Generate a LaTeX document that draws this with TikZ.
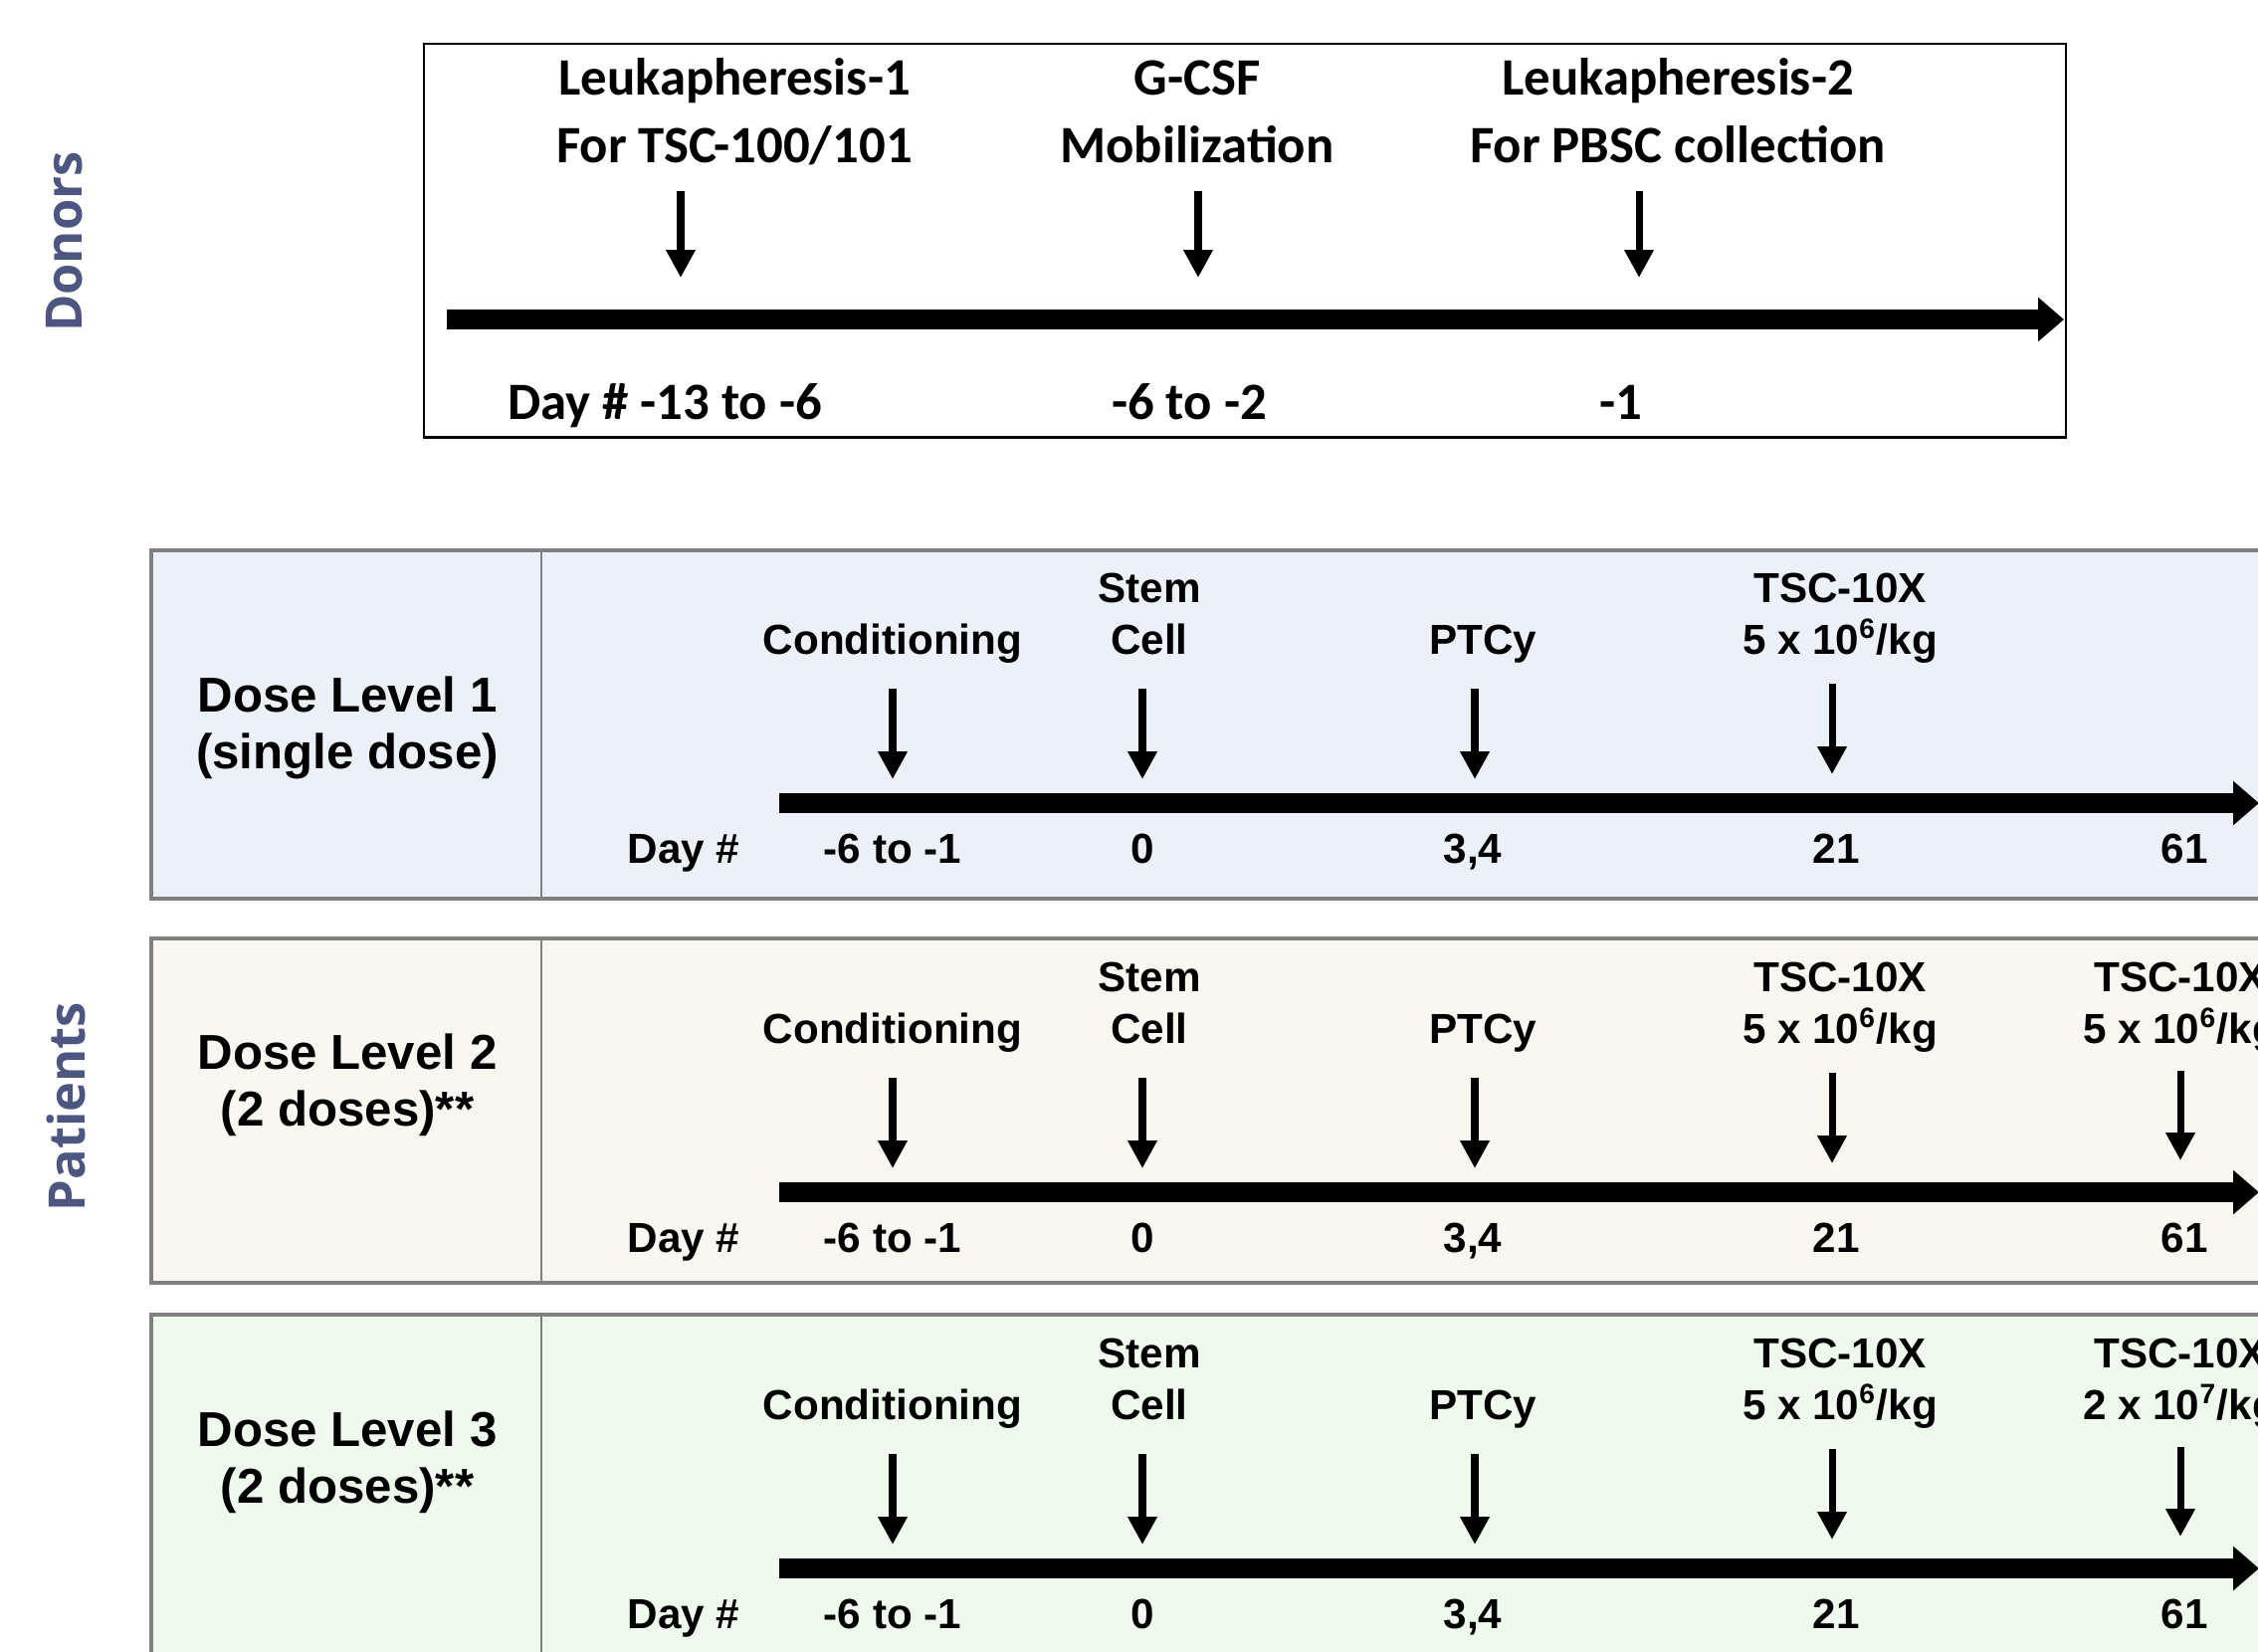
\documentclass[tikz,border=0pt]{standalone}
\usepackage{fontspec}
\setmainfont{Liberation Sans}
\newfontfamily\donorfont{Carlito}
\newfontfamily\sidefont{Open Sans}
\usetikzlibrary{positioning, arrows.meta}

\definecolor{sidecolor}{RGB}{77,86,128}
\definecolor{rowblue}{RGB}{234,241,248}
\definecolor{rowbeige}{RGB}{250,246,240}
\definecolor{rowgreen}{RGB}{238,251,236}
\definecolor{rowedge}{RGB}{128,128,128}

\begin{document}
\begin{tikzpicture}[x=0.01cm, y=-0.01cm,
		sidelabel/.style={font=\sidefont\bfseries\fontsize{14.4}{17}\selectfont, text=sidecolor, rotate=90, inner sep=0pt},
		donorlabel/.style={font=\donorfont\bfseries\fontsize{15}{19.3}\selectfont, align=center, inner sep=0pt, anchor=base},
		doselabel/.style={font=\bfseries\fontsize{14}{16.2}\selectfont, align=center, inner sep=0pt, anchor=base},
		eventlabel/.style={font=\bfseries\fontsize{12}{14.7}\selectfont, align=center, inner sep=0pt, anchor=base},
		rowbox/.style={draw=rowedge, line width=1.1pt},
		timeline/.style={line width=0.2cm, -{Triangle[width=0.43cm, length=0.26cm]}},
		event/.style={line width=2pt, -{Triangle[width=0.28cm, length=0.28cm]}}
	]
	\useasboundingbox (0,0) rectangle (2269,1659);

	% donors
	\node[sidelabel] (donors) at (65,243) {Donors};
	\node[draw, line width=0.7pt, minimum width=16.49cm, minimum height=3.95cm, anchor=north west] (donorbox) at (425,43) {};
	\node[donorlabel] (leuk1) at (738,163) {Leukapheresis-1\\For TSC-100/101};
	\node[donorlabel] (gcsf) at (1203,163) {G-CSF\\Mobilization};
	\node[donorlabel] (leuk2) at (1686,163) {Leukapheresis-2\\For PBSC collection};
	\node[donorlabel] (dday1) at (668,421) {Day \# -13 to -6};
	\node[donorlabel] (dday2) at (1195,421) {-6 to -2};
	\node[donorlabel] (dday3) at (1629,421) {-1};
	\coordinate (dstart) at (449,321);
	\coordinate (dend) at (2074,321);
	\draw[timeline] (dstart) -- (dend);

	\foreach \i/\x in {1/684, 2/1204, 3/1647} {
		\coordinate (dtop\i) at (\x,192);
		\coordinate (dtip\i) at (\x,279);
		\draw[event] (dtop\i) -- (dtip\i);
	}

	% patients
	\node[sidelabel] (patients) at (67,1112) {Patients};
	\draw[rowbox, fill=rowblue] (152,553) rectangle (2330,903);
	\draw[rowbox, fill=rowbeige] (152,943) rectangle (2330,1289);
	\draw[rowbox, fill=rowgreen] (152,1321) rectangle (2330,1700);
	\foreach \y/\h in {553/903, 943/1289, 1321/1700}
		\draw[draw=rowedge, line width=0.8pt] (544,\y) -- (544,\h);

	\node[doselabel] (dose1) at (349,772) {Dose Level 1\\(single dose)};
	\node[doselabel] (dose2) at (349,1131) {Dose Level 2\\(2 doses)**};
	\node[doselabel] (dose3) at (349,1510) {Dose Level 3\\(2 doses)**};

	\foreach \r/\dy in {1/0, 2/391, 3/769} {
		\node[eventlabel] (cond\r) at (897,657+\dy) {Conditioning};
		\node[eventlabel] (stem\r) at (1155,657+\dy) {Stem\\Cell};
		\node[eventlabel] (ptcy\r) at (1490,657+\dy) {PTCy};
		\node[eventlabel] (tsca\r) at (1849,657+\dy) {TSC-10X\\5 x 10\textsuperscript{6}/kg};
		\node[eventlabel] (day\r) at (687,867+\dy) {Day \#};
		\node[eventlabel] (daya\r) at (897,867+\dy) {-6 to -1};
		\node[eventlabel] (dayb\r) at (1148,867+\dy) {0};
		\node[eventlabel] (dayc\r) at (1480,867+\dy) {3,4};
		\node[eventlabel] (dayd\r) at (1845,867+\dy) {21};
		\node[eventlabel] (daye\r) at (2195,867+\dy) {61};
		\coordinate (start\r) at (783,807+\dy);
		\coordinate (end\r) at (2270,807+\dy);
		\draw[timeline] (start\r) -- (end\r);
		\foreach \i/\x/\t in {1/897/692, 2/1148/692, 3/1482/692, 4/1841/687} {
			\coordinate (top\r-\i) at (\x,\t+\dy);
			\coordinate (tip\r-\i) at (\x,\t+91+\dy);
			\draw[event] (top\r-\i) -- (tip\r-\i);
		}
	}

	% second dose
	\node[eventlabel] (tscb2) at (2191,1048) {TSC-10X\\5 x 10\textsuperscript{6}/kg};
	\node[eventlabel] (tscb3) at (2191,1426) {TSC-10X\\2 x 10\textsuperscript{7}/kg};
	\foreach \r/\t in {2/1076, 3/1454} {
		\coordinate (top\r-5) at (2191,\t);
		\coordinate (tip\r-5) at (2191,\t+90);
		\draw[event] (top\r-5) -- (tip\r-5);
	}
\end{tikzpicture}
\end{document}
